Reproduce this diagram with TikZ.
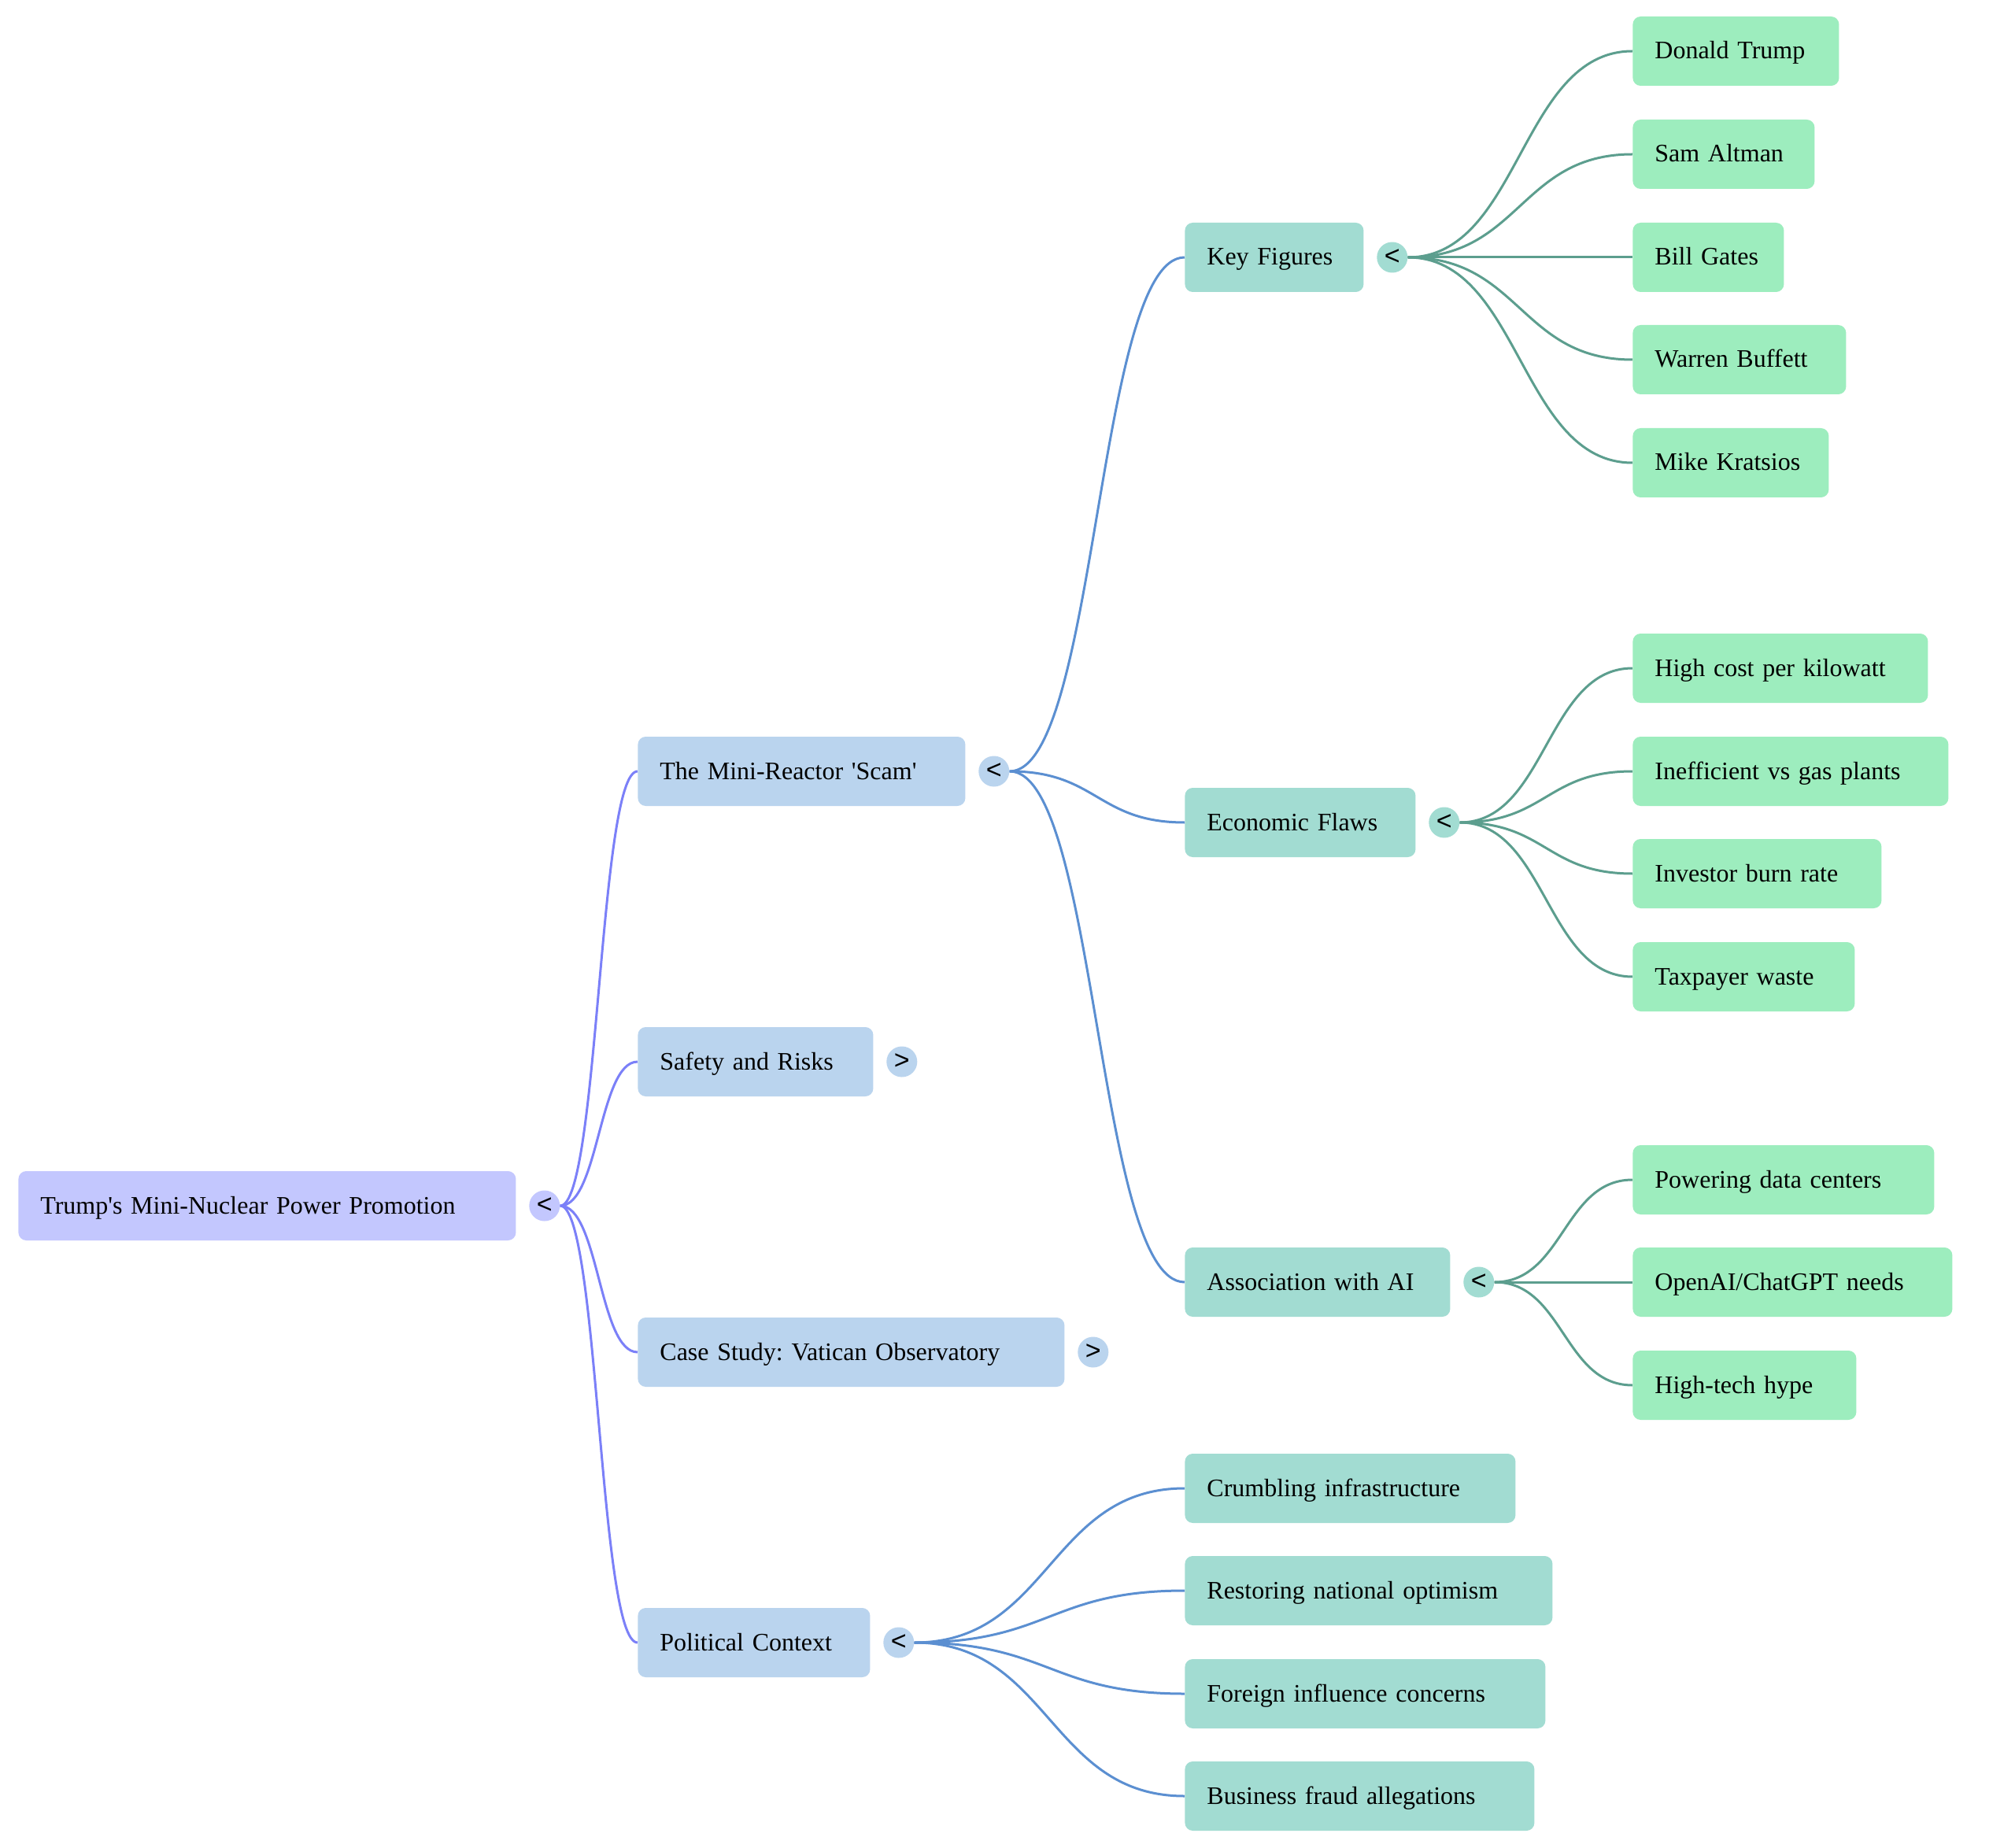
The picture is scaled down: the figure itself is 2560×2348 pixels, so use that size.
\documentclass[tikz,border=0pt]{standalone}
\usepackage{fontspec}
\setmainfont{Liberation Serif}
\newfontfamily\symfont{Liberation Sans}
\usetikzlibrary{calc}
\frenchspacing
\definecolor{rootfill}{HTML}{C3C7FE}
\definecolor{lafill}{HTML}{BAD4EE}
\definecolor{lbfill}{HTML}{A2DCD2}
\definecolor{lcfill}{HTML}{9DEDBE}
\definecolor{rootedge}{HTML}{7B80F8}
\definecolor{laedge}{HTML}{5B8FD1}
\definecolor{lbedge}{HTML}{5C9E8E}
\tikzset{
  mmbox/.style={anchor=west, rounded corners=5pt, inner xsep=14pt, inner ysep=0pt,
    minimum height=44pt, align=left, text height=12pt, text depth=2pt,
    font=\fontsize{16}{19}\selectfont},
  mmcirc/.style={circle, inner sep=0pt, minimum size=19.5pt,
    font=\symfont\fontsize{17}{17}\selectfont},
  mmedge/.style={line width=1.5pt}
}
\newcommand\mmbox[6]{%
  \pgfmathsetmacro\mmw{(#3-#2)*0.5}%
  \pgfmathsetmacro\mmtw{\mmw-28}%
  \node[mmbox, fill=#5, minimum width=\mmw pt, text width=\mmtw pt] (#1) at (#2,#4) {#6};}
\newcommand\mmcirc[4]{%
  \node[mmcirc, fill=#3] (#1) at ([xshift=18pt]#2.east) {#4};}
\newcommand\mmlink[3]{%
  \draw[mmedge,#1] let \p1=(#2.east), \p2=(#3.west) in
    (\p1) .. controls ({(\x1+\x2)/2},\y1) and ({(\x1+\x2)/2},\y2) .. (\p2);}
\begin{document}
\begin{tikzpicture}[x=0.5pt,y=-0.5pt]
\useasboundingbox (0,0) rectangle (2560,2348);
\fill[white] (0,0) rectangle (2560,2348);
% root
\mmbox{root}{23}{655}{1532}{rootfill}{Trump\textquotesingle s Mini-Nuclear Power Promotion}
\mmcirc{croot}{root}{rootfill}{<}
% level 1
\mmbox{scam}{810}{1226}{980}{lafill}{The Mini-Reactor \textquotesingle Scam\textquotesingle}
\mmcirc{cscam}{scam}{lafill}{<}
\mmbox{safety}{810}{1109}{1349}{lafill}{Safety and Risks}
\mmcirc{csafety}{safety}{lafill}{>}
\mmbox{vatican}{810}{1352}{1718}{lafill}{Case Study: Vatican Observatory}
\mmcirc{cvatican}{vatican}{lafill}{>}
\mmbox{political}{810}{1105}{2087}{lafill}{Political Context}
\mmcirc{cpolitical}{political}{lafill}{<}
% level 2
\mmbox{key}{1505}{1732}{327}{lbfill}{Key Figures}
\mmcirc{ckey}{key}{lbfill}{<}
\mmbox{econ}{1505}{1798}{1045}{lbfill}{Economic Flaws}
\mmcirc{cecon}{econ}{lbfill}{<}
\mmbox{ai}{1505}{1842}{1629}{lbfill}{Association with AI}
\mmcirc{cai}{ai}{lbfill}{<}
\mmbox{crumb}{1505}{1925}{1891}{lbfill}{Crumbling infrastructure}
\mmbox{restore}{1505}{1972}{2021}{lbfill}{Restoring national optimism}
\mmbox{foreign}{1505}{1963}{2152}{lbfill}{Foreign influence concerns}
\mmbox{fraud}{1505}{1949}{2282}{lbfill}{Business fraud allegations}
% level 3
\mmbox{trump}{2074}{2336}{65}{lcfill}{Donald Trump}
\mmbox{altman}{2074}{2305}{196}{lcfill}{Sam Altman}
\mmbox{gates}{2074}{2266}{327}{lcfill}{Bill Gates}
\mmbox{buffett}{2074}{2345}{457}{lcfill}{Warren Buffett}
\mmbox{kratsios}{2074}{2323}{588}{lcfill}{Mike Kratsios}
\mmbox{cost}{2074}{2449}{849}{lcfill}{High cost per kilowatt}
\mmbox{ineff}{2074}{2475}{980}{lcfill}{Inefficient vs gas plants}
\mmbox{burn}{2074}{2390}{1110}{lcfill}{Investor burn rate}
\mmbox{waste}{2074}{2356}{1241}{lcfill}{Taxpayer waste}
\mmbox{data}{2074}{2457}{1499}{lcfill}{Powering data centers}
\mmbox{openai}{2074}{2480}{1629}{lcfill}{OpenAI/ChatGPT needs}
\mmbox{hype}{2074}{2358}{1760}{lcfill}{High-tech hype}
% links
\mmlink{rootedge}{croot}{scam}
\mmlink{rootedge}{croot}{safety}
\mmlink{rootedge}{croot}{vatican}
\mmlink{rootedge}{croot}{political}
\mmlink{laedge}{cscam}{key}
\mmlink{laedge}{cscam}{econ}
\mmlink{laedge}{cscam}{ai}
\mmlink{laedge}{cpolitical}{crumb}
\mmlink{laedge}{cpolitical}{restore}
\mmlink{laedge}{cpolitical}{foreign}
\mmlink{laedge}{cpolitical}{fraud}
\mmlink{lbedge}{ckey}{trump}
\mmlink{lbedge}{ckey}{altman}
\mmlink{lbedge}{ckey}{gates}
\mmlink{lbedge}{ckey}{buffett}
\mmlink{lbedge}{ckey}{kratsios}
\mmlink{lbedge}{cecon}{cost}
\mmlink{lbedge}{cecon}{ineff}
\mmlink{lbedge}{cecon}{burn}
\mmlink{lbedge}{cecon}{waste}
\mmlink{lbedge}{cai}{data}
\mmlink{lbedge}{cai}{openai}
\mmlink{lbedge}{cai}{hype}
\end{tikzpicture}
\end{document}
